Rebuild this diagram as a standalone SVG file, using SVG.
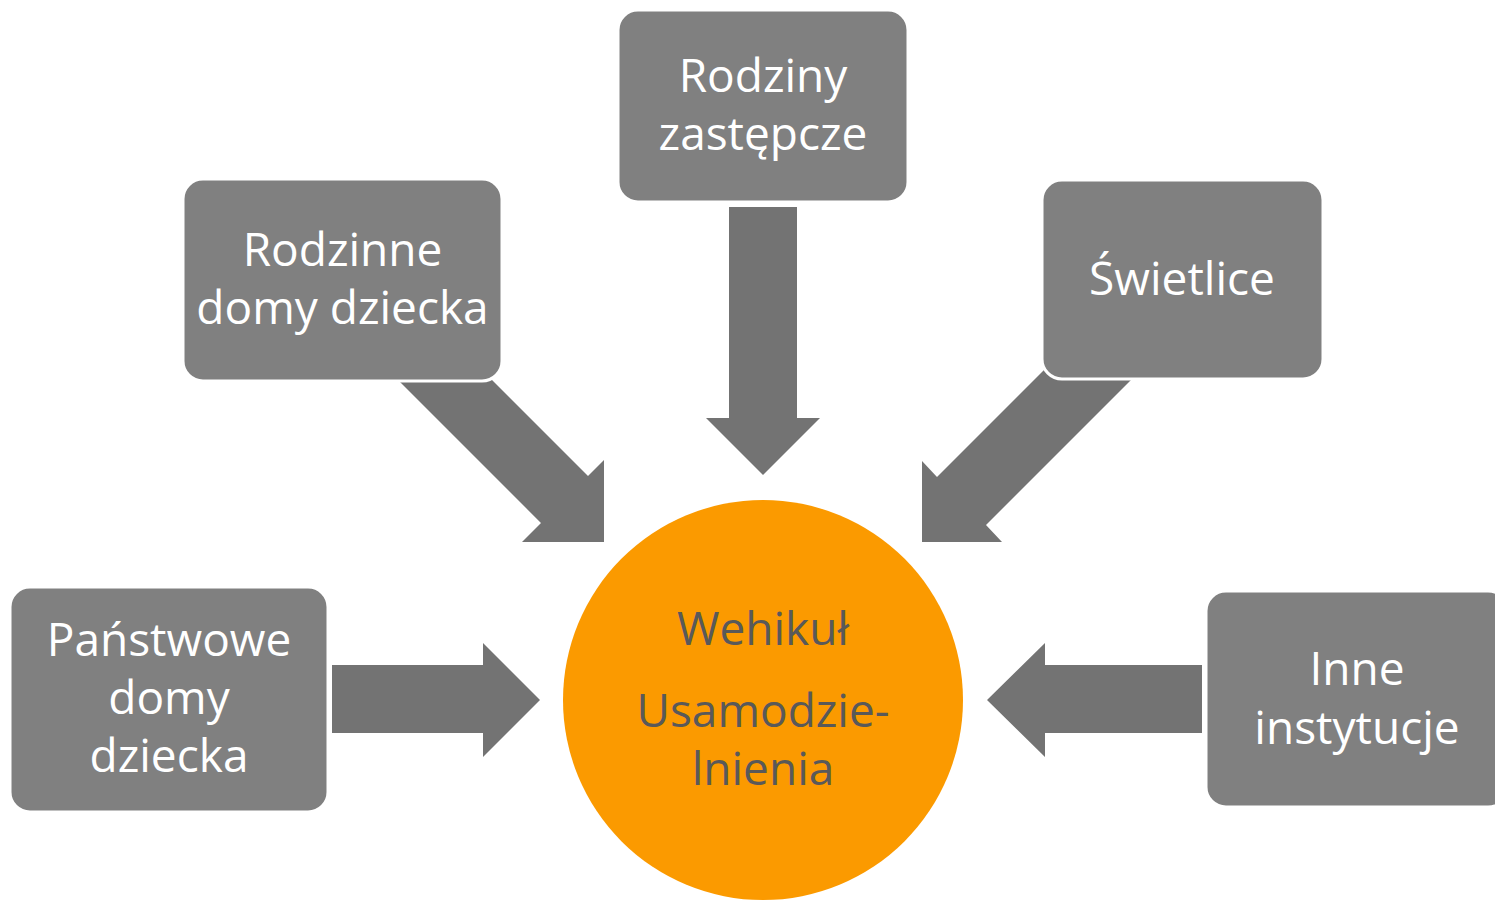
<svg xmlns="http://www.w3.org/2000/svg" width="1495" height="900" viewBox="0 0 1495 900">
<style>
.box{fill:#808080;stroke:#ffffff;stroke-width:3}
.arr{fill:#737373}
.t{font-family:"Open Sans","Liberation Sans",sans-serif;font-size:46px;fill:#ffffff;text-anchor:middle}
.c{font-family:"Open Sans","Liberation Sans",sans-serif;font-size:46px;fill:#595959;text-anchor:middle}
</style>
<rect width="1495" height="900" fill="#ffffff"/>
<g id="connectors">
<polygon class="arr" points="332,665 483,665 483,643 540,700 483,757 483,733 332,733"/>
<polygon class="arr" points="1202,665 1045,665 1045,643 987,700 1045,757 1045,733 1202,733"/>
<polygon class="arr" points="729,207 797,207 797,418 820,418 763,475 706,418 729,418"/>
<polygon class="arr" points="388,370 482,370 588,476 604,460 604,542 522,542 541,523"/>
<polygon class="arr" points="1044,370 1141,370 986,525 1002,542 922,542 922,461 937,477"/>
</g>
<g id="center">
<circle cx="763" cy="700" r="200" fill="#FB9A00"/>
<text class="c" x="763" y="645">Wehikuł</text>
<text class="c" x="763" y="727">Usamodzie-</text>
<text class="c" x="763" y="785">lnienia</text>
</g>
<g id="node-rodzinne">
<rect class="box" x="183" y="179" width="319" height="202" rx="20"/>
<text class="t" x="342.5" y="266">Rodzinne</text>
<text class="t" x="342.5" y="324">domy dziecka</text>
</g>
<g id="node-rodziny">
<rect class="box" x="618" y="10" width="290" height="192" rx="20"/>
<text class="t" x="763" y="92">Rodziny</text>
<text class="t" x="763" y="150">zastępcze</text>
</g>
<g id="node-swietlice">
<rect class="box" x="1042" y="180" width="281" height="199" rx="20"/>
<text class="t" x="1182" y="295">Świetlice</text>
</g>
<g id="node-panstwowe">
<rect class="box" x="10" y="587" width="318" height="225" rx="20"/>
<text class="t" x="169" y="656">Państwowe</text>
<text class="t" x="169" y="714">domy</text>
<text class="t" x="169" y="772">dziecka</text>
</g>
<g id="node-inne">
<rect class="box" x="1206" y="591" width="302" height="216" rx="20"/>
<text class="t" x="1357" y="685">Inne</text>
<text class="t" x="1357" y="744">instytucje</text>
</g>
</svg>
